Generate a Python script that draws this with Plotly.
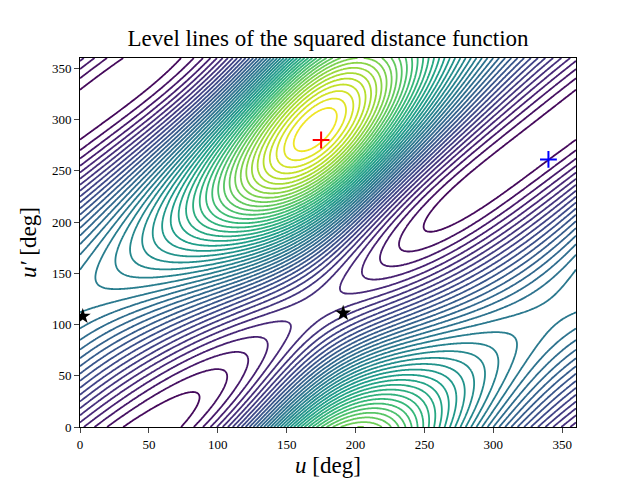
import numpy as np
import plotly.graph_objects as go

# orbital elements of the two orbits (semi-major axis, eccentricity, arg. of pericentre [deg])
orbit1 = dict(a=1.5, e=0.3, omega=355.0, inc=0.0, dnode=0.0)
orbit2 = dict(a=1.0, e=0.12, omega=85.0, inc=6.0, dnode=56.0)

# critical points
max_u, max_up = [175], [280]
min_u, min_up = [340], [261]
saddle_u, saddle_up = [2, 191], [108, 111]

u_grid = np.linspace(0, 360, 361)


def position(orb, ang):
    th = np.radians(ang)
    r = orb["a"] * (1 - orb["e"] ** 2) / (1 + orb["e"] * np.cos(th - np.radians(orb["omega"])))
    x, y = r * np.cos(th), r * np.sin(th)
    i = np.radians(orb["inc"])
    y, z = y * np.cos(i), y * np.sin(i)
    d = np.radians(orb["dnode"])
    return x * np.cos(d) - y * np.sin(d), x * np.sin(d) + y * np.cos(d), z


U, UP = np.meshgrid(u_grid, u_grid)
x1, y1, z1 = position(orbit1, U)
x2, y2, z2 = position(orbit2, UP)
d2 = (x1 - x2) ** 2 + (y1 - y2) ** 2 + (z1 - z2) ** 2

fig = go.Figure()
fig.add_trace(go.Contour(
    x=u_grid, y=u_grid, z=d2, colorscale="Viridis", showscale=False,
    contours=dict(coloring="lines", start=d2.min(), end=d2.max(), size=(d2.max() - d2.min()) / 45),
    line=dict(width=1.8),
))
fig.add_trace(go.Scatter(x=max_u, y=max_up, mode="markers",
                         marker=dict(symbol="cross-thin", size=12, line=dict(color="red", width=2))))
fig.add_trace(go.Scatter(x=min_u, y=min_up, mode="markers",
                         marker=dict(symbol="cross-thin", size=12, line=dict(color="blue", width=2))))
fig.add_trace(go.Scatter(x=saddle_u, y=saddle_up, mode="markers",
                         marker=dict(symbol="star", size=12, color="black")))

serif = "Liberation Serif, DejaVu Serif, serif"
fig.update_layout(
    width=640, height=480, showlegend=False,
    paper_bgcolor="white", plot_bgcolor="white",
    margin=dict(l=72, r=72, t=50, b=61),
    font=dict(family=serif, size=13, color="black"),
    title=dict(text="Level lines of the squared distance function", x=0.5, xanchor="center",
               y=0.955, font=dict(size=23, family=serif)),
    xaxis=dict(range=[0, 360], tickvals=[0, 50, 100, 150, 200, 250, 300, 350], automargin=False,
               showgrid=False, zeroline=False, showline=True, linecolor="black", mirror=True,
               ticks="outside", title=dict(text="<i>u</i> [deg]", font=dict(size=23), standoff=6)),
    yaxis=dict(range=[0, 360], tickvals=[0, 50, 100, 150, 200, 250, 300, 350], automargin=False,
               showgrid=False, zeroline=False, showline=True, linecolor="black", mirror=True,
               ticks="outside", title=dict(text="<i>u′</i> [deg]", font=dict(size=23), standoff=8)),
)
fig.write_html("out.html")
